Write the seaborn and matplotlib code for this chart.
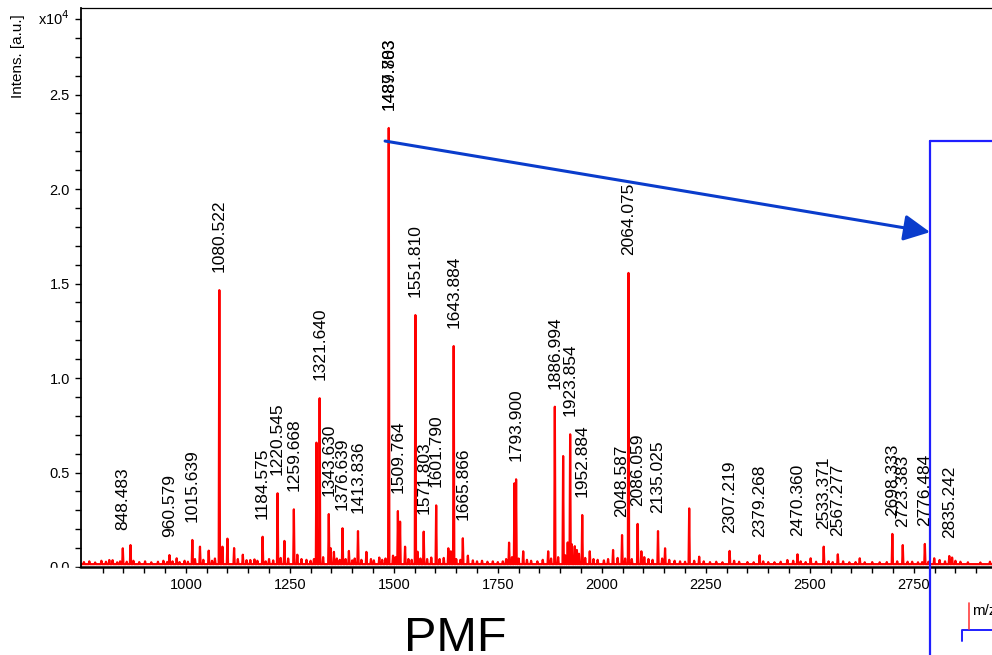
import matplotlib
matplotlib.use("Agg")
import matplotlib.pyplot as plt
import seaborn as sns
import pandas as pd
from matplotlib.lines import Line2D
from matplotlib.patches import Rectangle
from matplotlib.ticker import FixedLocator, MultipleLocator

sns.set_style("ticks")
plt.rcParams["font.family"] = ["Liberation Sans", "DejaVu Sans"]
for key in ["text.color", "axes.labelcolor", "xtick.color", "ytick.color", "axes.edgecolor"]:
    plt.rcParams[key] = "black"

# ---------------- data ----------------
# labelled peaks (m/z, intensity)
label_mz = [848.483, 960.579, 1015.639, 1080.522, 1184.575, 1220.545, 1259.668,
            1321.640, 1343.630, 1376.639, 1413.836, 1487.783, 1487.783, 1509.764,
            1551.810, 1571.803, 1601.790, 1643.884, 1665.866, 1793.900, 1886.994,
            1923.854, 1952.884, 2048.587, 2064.075, 2086.059, 2135.025, 2307.219,
            2379.268, 2470.360, 2533.371, 2567.277, 2698.333, 2723.383, 2776.484,
            2835.242]
label_int = [990, 630, 1430, 14650, 1600, 3900, 3050,
             8930, 2800, 2050, 1900, 23230, 23230, 2960,
             13330, 1870, 3260, 11690, 1520, 4640, 8480,
             7020, 2750, 1690, 15560, 2280, 1900, 850,
             620, 670, 1075, 670, 1750, 1160, 1220,
             580]
label_text = ["848.483", "960.579", "1015.639", "1080.522", "1184.575", "1220.545",
              "1259.668", "1321.640", "1343.630", "1376.639", "1413.836", "1487.783",
              "1489.803", "1509.764", "1551.810", "1571.803", "1601.790", "1643.884",
              "1665.866", "1793.900", "1886.994", "1923.854", "1952.884", "2048.587",
              "2064.075", "2086.059", "2135.025", "2307.219", "2379.268", "2470.360",
              "2533.371", "2567.277", "2698.333", "2723.383", "2776.484", "2835.242"]

# unlabelled peaks (m/z, intensity)
other_peaks = [(816, 370), (867, 1160), (978, 460), (1034, 1075), (1055, 865),
               (1088, 1075), (1100, 1500), (1116, 1000), (1137, 650), (1155, 370),
               (1165, 400), (1237, 1380), (1268, 650), (1314, 6580), (1348, 1000),
               (1356, 800), (1392, 850), (1434, 800), (1465, 500), (1498, 600),
               (1515, 2400), (1527, 1075), (1557, 810), (1631, 990), (1637, 830),
               (1678, 600), (1777, 1290), (1790, 4430), (1811, 830), (1871, 830),
               (1907, 5870), (1918, 1300), (1928, 1200), (1935, 1100), (1940, 900),
               (1945, 700), (1971, 830), (2027, 900), (2095, 830), (2152, 990),
               (2210, 3100), (2234, 545), (2446, 370), (2502, 460), (2620, 460),
               (2746, 280), (2799, 460), (2812, 370), (2842, 500), (2933, 280)]

# small baseline bumps (m/z, intensity)
baseline_bumps = [(755, 260), (768, 300), (782, 240), (797, 330), (808, 280), (824, 360),
                  (835, 250), (842, 300), (858, 280), (874, 330), (888, 260), (902, 300),
                  (917, 250), (933, 280), (946, 330), (955, 260), (968, 300), (985, 260),
                  (997, 330), (1005, 280), (1022, 420), (1042, 380), (1063, 330), (1070, 450),
                  (1125, 420), (1146, 360), (1172, 330), (1192, 300), (1200, 420), (1210, 350),
                  (1228, 480), (1246, 450), (1278, 420), (1290, 380), (1300, 330), (1308, 420),
                  (1330, 520), (1363, 450), (1370, 380), (1384, 420), (1400, 350), (1406, 450),
                  (1422, 380), (1445, 420), (1452, 350), (1472, 380), (1480, 450), (1504, 520),
                  (1535, 420), (1543, 380), (1564, 450), (1580, 420), (1590, 500), (1610, 420),
                  (1620, 480), (1650, 420), (1660, 380), (1690, 350), (1700, 300), (1712, 330),
                  (1725, 280), (1738, 300), (1750, 260), (1762, 300), (1770, 420), (1784, 520),
                  (1800, 450), (1820, 380), (1830, 330), (1845, 300), (1858, 380), (1878, 450),
                  (1895, 520), (1912, 620), (1960, 480), (1980, 420), (1990, 380), (2005, 350),
                  (2015, 420), (2038, 480), (2056, 450), (2072, 420), (2102, 520), (2112, 420),
                  (2122, 380), (2145, 450), (2162, 380), (2175, 330), (2188, 300), (2200, 280),
                  (2222, 330), (2245, 300), (2260, 260), (2275, 280), (2290, 250), (2318, 330),
                  (2330, 280), (2350, 260), (2365, 250), (2388, 300), (2400, 260), (2415, 250),
                  (2430, 280), (2460, 330), (2478, 300), (2490, 260), (2515, 280), (2545, 300),
                  (2555, 260), (2580, 300), (2595, 250), (2610, 260), (2632, 250), (2650, 260),
                  (2668, 250), (2685, 260), (2710, 300), (2735, 280), (2760, 250), (2770, 260),
                  (2785, 280), (2825, 300), (2850, 330), (2862, 280), (2880, 250), (2910, 240),
                  (2960, 250), (2985, 240)]

baseline_level = 150
x_range = (748, 3000)
x_major = [1000, 1250, 1500, 1750, 2000, 2250, 2500, 2750]
y_major = [0, 5000, 10000, 15000, 20000, 25000]
y_major_labels = ["0.0", "0.5", "1.0", "1.5", "2.0", "2.5"]

# -------------- build spectrum table --------------
peak_list = list(zip(label_mz, label_int)) + other_peaks + baseline_bumps
half_w = 1.5
rows = [(x_range[0], baseline_level), (x_range[1], baseline_level)]
for mz, h in peak_list:
    rows += [(mz - half_w, baseline_level), (mz, h), (mz + half_w, baseline_level)]
spec = pd.DataFrame(rows, columns=["mz", "intensity"]).sort_values("mz")

# -------------- figure --------------
W, H = 992, 655
fig = plt.figure(figsize=(W / 100, H / 100), dpi=100)
px = 0.416  # pixels per m/z unit
ax = fig.add_axes([81 / W, 1 - 567 / H, (x_range[1] - x_range[0]) * px / W, (567 - 8) / H])

sns.lineplot(data=spec, x="mz", y="intensity", ax=ax, color="#ff0000",
             lw=1.6, estimator=None, sort=True)

ax.set_xlim(*x_range)
ax.set_ylim(0, 29580)
ax.set_xlabel("")
ax.set_ylabel("")

ax.set_xticks(x_major)
ax.set_xticklabels([str(v) for v in x_major])
ax.xaxis.set_minor_locator(FixedLocator(list(range(800, 3000, 50))))
ax.set_yticks(y_major)
ax.set_yticklabels(y_major_labels)
ax.yaxis.set_minor_locator(MultipleLocator(1000))
ax.tick_params(which="both", direction="out", length=4, width=1, labelsize=10.5, pad=4,
               colors="black")

for side, lw in [("left", 1.3), ("bottom", 1.8), ("top", 0.9), ("right", 0.9)]:
    ax.spines[side].set_linewidth(lw)
    ax.spines[side].set_color("black")

for t, mz, h in zip(label_text, label_mz, label_int):
    ax.annotate(t, xy=(mz, h), xytext=(0, 13), textcoords="offset points",
                rotation=90, ha="center", va="bottom", fontsize=12.5, color="black")

ax.annotate("x10$^4$", xy=(0, 29000), xycoords=("axes fraction", "data"),
            xytext=(-8, 0), textcoords="offset points", ha="right", va="center",
            fontsize=10.5, color="black")

fig.text(18 / W, 1 - 56 / H, "Intens. [a.u.]", rotation=90, ha="center",
         va="center", fontsize=11, color="black")

# hide lower part of the 0.0 label (as in the reference)
fig.add_artist(Rectangle((28 / W, 1 - 592 / H), 50 / W, 24 / H,
                         transform=fig.transFigure, color="white", zorder=10))

# arrow from the base peak to the zoom box
ax.annotate("", xy=(2789, 17720), xytext=(1479, 22540),
            arrowprops=dict(arrowstyle="-|>,head_length=0.8,head_width=0.4",
                            color="#0a3ccc", lw=2.2, mutation_scale=20,
                            shrinkA=0, shrinkB=0),
            annotation_clip=False)

# zoom box outline (extends beyond the figure)
box_col = "#1f1fff"
fig.add_artist(Line2D([930 / W, 930 / W], [1 - 141 / H, -0.1], color=box_col, lw=1.6))
fig.add_artist(Line2D([930 / W, 1.1], [1 - 141 / H, 1 - 141 / H], color=box_col, lw=1.6))

# partial inset content
fig.add_artist(Line2D([962 / W, 962 / W, 1.1], [1 - 641 / H, 1 - 630 / H, 1 - 630 / H],
                      color=box_col, lw=1.4))
fig.add_artist(Line2D([969 / W, 969 / W], [1 - 603 / H, 1 - 629 / H], color="#ff4040", lw=1.2))
fig.text(972 / W, 1 - 615 / H, "m/z", fontsize=11, va="baseline", ha="left", color="black")

fig.text(455 / W, 1 - 651 / H, "PMF", fontsize=35, ha="center", va="baseline", color="black")

fig.savefig("out.png", dpi=100)
